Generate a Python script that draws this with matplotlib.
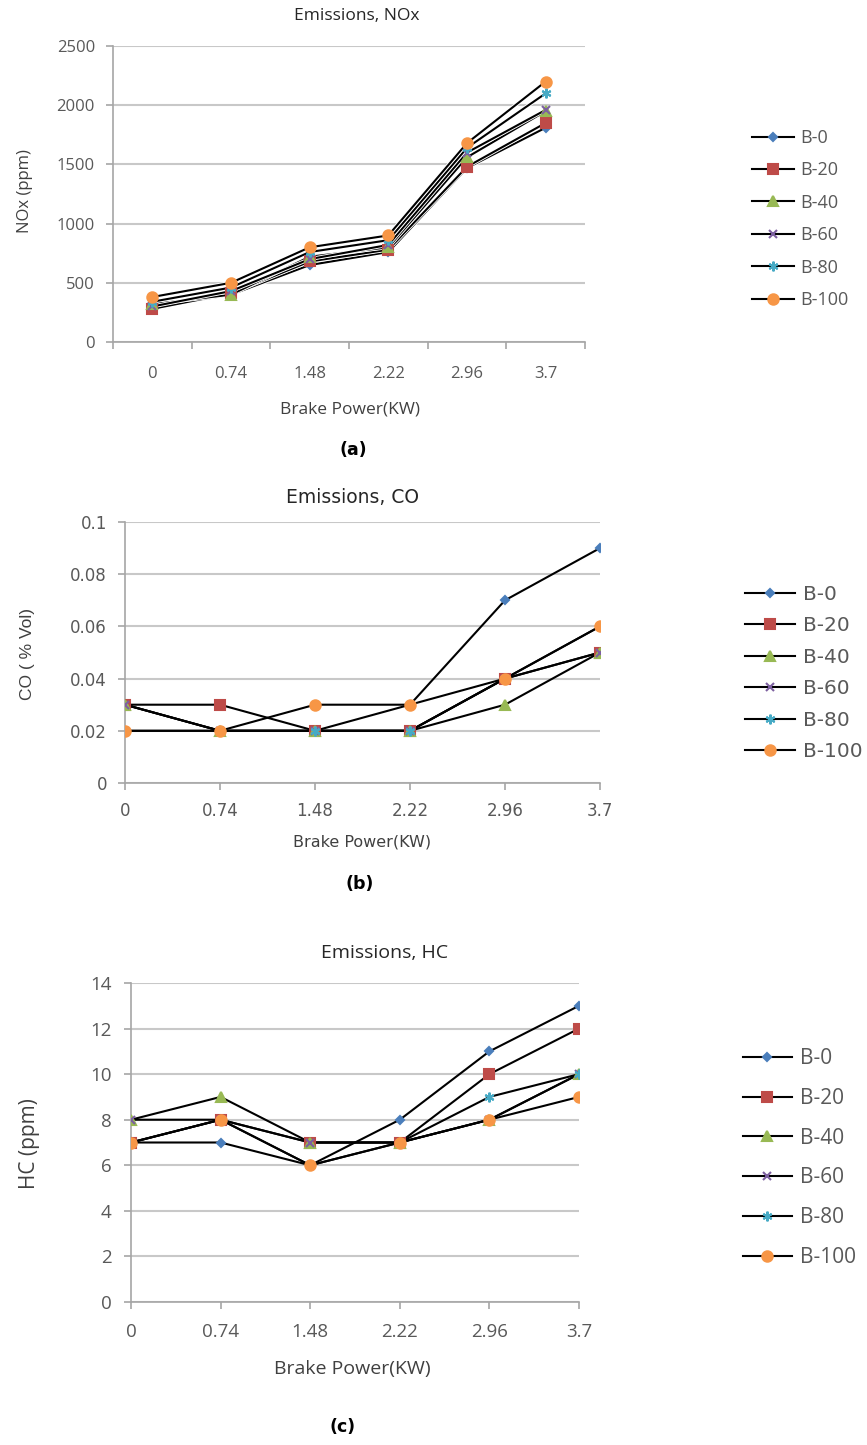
import matplotlib
matplotlib.use("Agg")
import matplotlib.pyplot as plt
import matplotlib.patheffects as pe
from matplotlib.lines import Line2D

W, H = 867, 1445

power = ["0", "0.74", "1.48", "2.22", "2.96", "3.7"]
blends = ["B-0", "B-20", "B-40", "B-60", "B-80", "B-100"]

# NOx (ppm)
nox_b0 = [290, 400, 650, 760, 1470, 1810]
nox_b20 = [280, 410, 680, 780, 1480, 1850]
nox_b40 = [320, 400, 720, 800, 1560, 1950]
nox_b60 = [300, 430, 700, 820, 1600, 1960]
nox_b80 = [340, 460, 760, 860, 1640, 2100]
nox_b100 = [380, 500, 800, 900, 1680, 2200]

# CO (% vol)
co_b0 = [0.03, 0.02, 0.02, 0.03, 0.07, 0.09]
co_b20 = [0.03, 0.03, 0.02, 0.02, 0.04, 0.05]
co_b40 = [0.03, 0.02, 0.02, 0.02, 0.03, 0.05]
co_b60 = [0.03, 0.02, 0.02, 0.02, 0.04, 0.05]
co_b80 = [0.02, 0.02, 0.02, 0.02, 0.04, 0.06]
co_b100 = [0.02, 0.02, 0.03, 0.03, 0.04, 0.06]

# HC (ppm)
hc_b0 = [7, 7, 6, 8, 11, 13]
hc_b20 = [7, 8, 7, 7, 10, 12]
hc_b40 = [8, 9, 7, 7, 8, 10]
hc_b60 = [8, 8, 7, 7, 8, 10]
hc_b80 = [7, 8, 6, 7, 9, 10]
hc_b100 = [7, 8, 6, 7, 8, 9]

colors = ["#4A7EBB", "#BE4B48", "#98B954", "#7D60A0", "#46AAC5", "#F79646"]
markers = ["D", "s", "^", "x", (6, 2, 0), "o"]
msizes = [4.5, 6.5, 6.5, 6, 7, 7.5]

TICK_C = "#595959"
LABEL_C = "#404040"
GRID_C = "#C8C8C8"


def px_axes(fig, left, right, top, bottom):
    return fig.add_axes([left / W, 1 - bottom / H, (right - left) / W, (bottom - top) / H])


def style(ax, family, size):
    for s in ["top", "right"]:
        ax.spines[s].set_visible(False)
    for s in ["left", "bottom"]:
        ax.spines[s].set_color("#A6A6A6")
        ax.spines[s].set_linewidth(1.2)
    ax.yaxis.grid(True, color=GRID_C, linewidth=1.5)
    ax.set_axisbelow(True)
    ax.tick_params(colors="#A6A6A6", labelcolor=TICK_C, labelsize=size, length=5, width=1.2)
    for lbl in ax.get_xticklabels() + ax.get_yticklabels():
        lbl.set_family(family)


def draw(ax, series, halo=False):
    fx = [pe.Stroke(linewidth=2.8, foreground="white"), pe.Normal()] if halo else None
    x = range(len(power))
    for i, vals in enumerate(series):
        ax.plot(x, vals, color="black", lw=1.5, zorder=3, path_effects=fx)
    # markers on top of all the lines
    for i, vals in enumerate(series):
        ax.plot(x, vals, ls="none", zorder=4, marker=markers[i], ms=msizes[i],
                mfc=colors[i], mec=colors[i], mew=1.5)


def legend(fig, x, ycenter, size, spacing, hlen, family):
    handles = [Line2D([], [], color="black", lw=1.5, marker=markers[i], ms=msizes[i],
                      mfc=colors[i], mec=colors[i], mew=1.5) for i in range(6)]
    fig.legend(handles, blends, loc="center left", bbox_to_anchor=(x / W, 1 - ycenter / H),
               frameon=False, borderpad=0, borderaxespad=0, handlelength=hlen,
               handletextpad=0.4, labelspacing=spacing, labelcolor=TICK_C,
               prop={"family": family, "size": size})


def ftext(fig, x, y, s, **kw):
    fig.text(x / W, 1 - y / H, s, ha="center", va="center", **kw)


fig = plt.figure(figsize=(W / 100, H / 100), dpi=100)

# (a) NOx -- category axis, points between ticks
ax = px_axes(fig, 113, 585, 46, 342)
draw(ax, [nox_b0, nox_b20, nox_b40, nox_b60, nox_b80, nox_b100], halo=True)
ax.set_xlim(-0.5, 5.5)
ax.set_ylim(0, 2500)
ax.set_yticks(range(0, 2501, 500))
ax.set_xticks(range(6), labels=power)
ax.set_xticks([i - 0.5 for i in range(7)], minor=True)
style(ax, "Open Sans", 12)
ax.tick_params(axis="y", pad=8)
ax.tick_params(axis="x", which="major", length=0, pad=17)
ax.tick_params(axis="x", which="minor", length=5, width=1.2, colors="#A6A6A6")
ftext(fig, 357, 16, "Emissions, NOx", fontsize=12.5, family="Open Sans", color="#262626")
ftext(fig, 25, 191, "NOx (ppm)", rotation=90, fontsize=12, family="Open Sans", color=LABEL_C)
ftext(fig, 350, 409, "Brake Power(KW)", fontsize=12.5, family="Open Sans", color=LABEL_C)
ftext(fig, 353, 450, "(a)", fontsize=12.5, fontweight="bold", family="DejaVu Sans")
legend(fig, 752, 219, 13, 0.8, 2.3, "Open Sans")

# (b) CO -- points on ticks
ax = px_axes(fig, 125, 600, 522, 783)
draw(ax, [co_b0, co_b20, co_b40, co_b60, co_b80, co_b100])
ax.set_xlim(0, 5)
ax.set_ylim(0, 0.1)
ax.set_yticks([0, 0.02, 0.04, 0.06, 0.08, 0.1], labels=["0", "0.02", "0.04", "0.06", "0.08", "0.1"])
ax.set_xticks(range(6), labels=power)
style(ax, "DejaVu Sans", 12)
ax.tick_params(axis="y", pad=8)
ax.tick_params(axis="x", pad=9)
ftext(fig, 353, 498, "Emissions, CO", fontsize=13.5, family="DejaVu Sans", color="#262626")
ftext(fig, 28, 654, "CO ( % Vol)", rotation=90, fontsize=12.5, family="Liberation Sans", color=LABEL_C)
ftext(fig, 362, 842, "Brake Power(KW)", fontsize=11.5, family="DejaVu Sans", color=LABEL_C)
ftext(fig, 360, 884, "(b)", fontsize=12.5, fontweight="bold", family="DejaVu Sans")
legend(fig, 745, 673, 14.5, 0.62, 2.5, "DejaVu Sans")

# (c) HC -- points on ticks
ax = px_axes(fig, 131, 579, 983, 1302)
draw(ax, [hc_b0, hc_b20, hc_b40, hc_b60, hc_b80, hc_b100])
ax.set_xlim(0, 5)
ax.set_ylim(0, 14)
ax.set_yticks(range(0, 15, 2))
ax.set_xticks(range(6), labels=power)
style(ax, "Open Sans", 13.5)
ax.tick_params(axis="y", pad=9)
ax.tick_params(axis="x", pad=10)
ftext(fig, 385, 953, "Emissions, HC", fontsize=14, family="Open Sans", color="#262626")
ftext(fig, 30, 1144, "HC (ppm)", rotation=90, fontsize=15, family="Open Sans", color=LABEL_C)
ftext(fig, 352, 1369, "Brake Power(KW)", fontsize=14, family="Open Sans", color=LABEL_C)
ftext(fig, 343, 1427, "(c)", fontsize=12.5, fontweight="bold", family="DejaVu Sans")
legend(fig, 743, 1158, 15, 0.9, 2.35, "Open Sans")

fig.savefig("out.png", dpi=100)
